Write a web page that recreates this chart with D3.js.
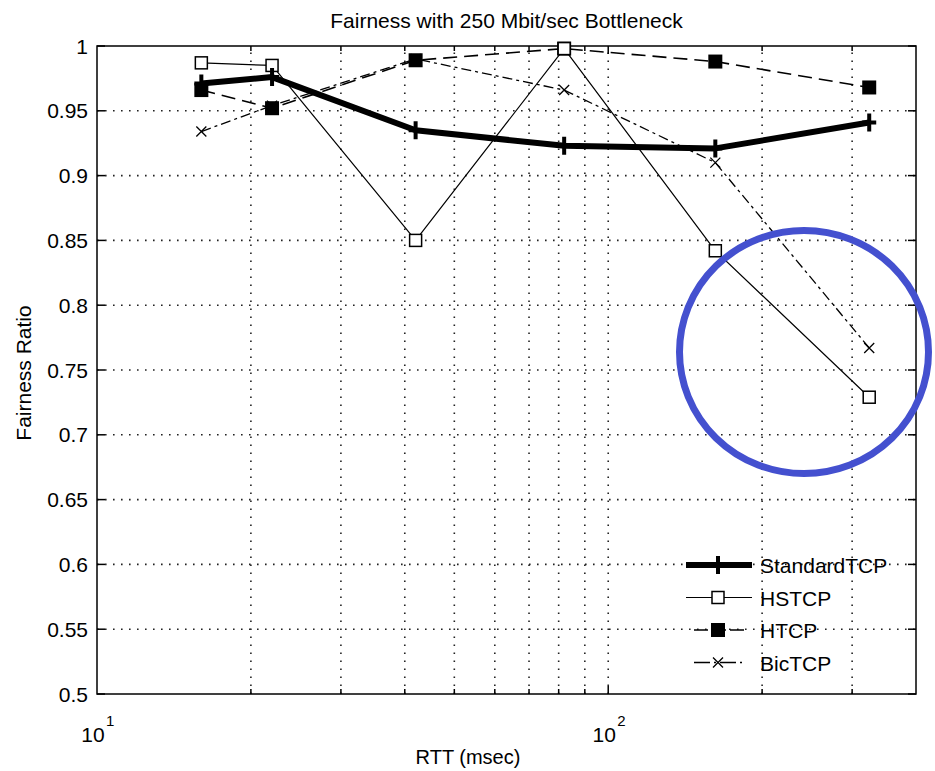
<!DOCTYPE html>
<html>
<head>
<meta charset="utf-8">
<script src="https://cdn.jsdelivr.net/npm/d3@7"></script>
<style>
  body { margin: 0; background: #fff; }
  svg { font-family: "Liberation Sans", Arial, sans-serif; }
</style>
</head>
<body>
<svg id="chart" width="935" height="771"></svg>
<script>
// RTT values (msec) and fairness ratios
const rtt = [16, 22, 42, 82, 162, 324];
const standardTCP = [0.971, 0.976, 0.935, 0.923, 0.921, 0.941];
const hsTCP = [0.987, 0.985, 0.850, 0.998, 0.842, 0.729];
const hTCP = [0.966, 0.952, 0.989, 0.998, 0.988, 0.968];
const bicTCP = [0.934, 0.954, 0.990, 0.966, 0.910, 0.767];
const seriesNames = ["StandardTCP", "HSTCP", "HTCP", "BicTCP"];
const yTicks = d3.range(0.5, 1.0001, 0.05);
const xMinor = [20, 30, 40, 50, 60, 70, 80, 90, 100, 200, 300];

const svg = d3.select("#chart");
const plotL = 97, plotR = 916, plotT = 46, plotB = 694;

const x = d3.scaleLog().domain([10, 400]).range([plotL, plotR]);
const y = d3.scaleLinear().domain([0.5, 1]).range([plotB, plotT]);

// grid
const grid = svg.append("g")
    .attr("stroke", "#222")
    .attr("stroke-width", 1.6)
    .attr("stroke-dasharray", "1.6,6.4");
grid.selectAll(".gy").data(yTicks.slice(1, -1)).enter().append("line")
    .attr("x1", plotL).attr("x2", plotR)
    .attr("y1", d => y(d)).attr("y2", d => y(d));
grid.selectAll(".gx").data(xMinor).enter().append("line")
    .attr("x1", d => x(d)).attr("x2", d => x(d))
    .attr("y1", plotB).attr("y2", plotT);

// frame
svg.append("rect")
    .attr("x", plotL).attr("y", plotT)
    .attr("width", plotR - plotL).attr("height", plotB - plotT)
    .attr("fill", "none").attr("stroke", "#000").attr("stroke-width", 1.5);

// inward ticks on all four sides
const ticks = svg.append("g").attr("stroke", "#000").attr("stroke-width", 1.5);
yTicks.forEach(v => {
    ticks.append("line").attr("x1", plotL).attr("x2", plotL + 8).attr("y1", y(v)).attr("y2", y(v));
    ticks.append("line").attr("x1", plotR).attr("x2", plotR - 8).attr("y1", y(v)).attr("y2", y(v));
});
xMinor.forEach(v => {
    const len = v === 100 ? 8 : 5;
    ticks.append("line").attr("x1", x(v)).attr("x2", x(v)).attr("y1", plotB).attr("y2", plotB - len);
    ticks.append("line").attr("x1", x(v)).attr("x2", x(v)).attr("y1", plotT).attr("y2", plotT + len);
});

// y tick labels
svg.append("g").selectAll("text").data(yTicks).enter().append("text")
    .attr("x", plotL - 9)
    .attr("y", d => y(d) + 7.5)
    .attr("text-anchor", "end")
    .attr("font-size", 21)
    .text(d => d3.format("~g")(+d.toFixed(2)));

// x tick labels (10^1, 10^2)
[10, 100].forEach(v => {
    svg.append("text")
        .attr("x", x(v) - 4).attr("y", 742)
        .attr("text-anchor", "middle")
        .attr("font-size", 21)
        .text("10");
    svg.append("text")
        .attr("x", x(v) + 9).attr("y", 726)
        .attr("font-size", 15)
        .text(Math.round(Math.log10(v)));
});

// title and axis labels
svg.append("text").attr("x", (plotL + plotR) / 2).attr("y", 28)
    .attr("text-anchor", "middle").attr("font-size", 21)
    .text("Fairness with 250 Mbit/sec Bottleneck");
svg.append("text").attr("x", 468).attr("y", 764)
    .attr("text-anchor", "middle").attr("font-size", 20)
    .text("RTT (msec)");
svg.append("text")
    .attr("transform", "translate(31,373) rotate(-90)")
    .attr("text-anchor", "middle").attr("font-size", 21)
    .text("Fairness Ratio");

const line = d3.line().x(d => x(d[0])).y(d => y(d[1]));
const zipped = vals => rtt.map((r, i) => [r, vals[i]]);

const styles = [
    { vals: standardTCP, width: 6, dash: null, marker: "plus" },
    { vals: hsTCP, width: 1.2, dash: null, marker: "square" },
    { vals: hTCP, width: 1.6, dash: "14,7", marker: "filled" },
    { vals: bicTCP, width: 1.3, dash: "10,4,3,4", marker: "x" }
];

function drawMarker(g, cx, cy, kind) {
    if (kind === "plus") {
        g.append("path").attr("d", `M${cx - 7},${cy}H${cx + 7}M${cx},${cy - 9}V${cy + 9}`)
            .attr("stroke", "#000").attr("stroke-width", 4).attr("fill", "none");
    } else if (kind === "square") {
        g.append("rect").attr("x", cx - 6).attr("y", cy - 6).attr("width", 12).attr("height", 12)
            .attr("fill", "#fff").attr("stroke", "#000").attr("stroke-width", 1.5);
    } else if (kind === "filled") {
        g.append("rect").attr("x", cx - 7).attr("y", cy - 7).attr("width", 14).attr("height", 14)
            .attr("fill", "#000");
    } else {
        g.append("path").attr("d", `M${cx - 5},${cy - 5}L${cx + 5},${cy + 5}M${cx - 5},${cy + 5}L${cx + 5},${cy - 5}`)
            .attr("stroke", "#000").attr("stroke-width", 1.3);
    }
}

// draw series so StandardTCP ends on top of thin lines
[2, 3, 1, 0].forEach(i => {
    const s = styles[i];
    const g = svg.append("g");
    g.append("path").datum(zipped(s.vals))
        .attr("d", line)
        .attr("fill", "none")
        .attr("stroke", "#000")
        .attr("stroke-width", s.width)
        .attr("stroke-linejoin", "round")
        .attr("stroke-dasharray", s.dash);
    zipped(s.vals).forEach(d => drawMarker(g, x(d[0]), y(d[1]), s.marker));
});

// legend
const leg = svg.append("g");
seriesNames.forEach((name, i) => {
    const s = styles[i];
    const ly = 565 + i * 32.5;
    const x1 = i < 2 ? 686 : 694, x2 = i < 2 ? 752 : 745;
    leg.append("line").attr("x1", x1).attr("x2", x2).attr("y1", ly).attr("y2", ly)
        .attr("stroke", "#000").attr("stroke-width", s.width)
        .attr("stroke-dasharray", s.dash ? (i === 2 ? "14,4" : "16,4,2,4") : null);
    drawMarker(leg, 718, ly, s.marker);
    leg.append("text").attr("x", 760).attr("y", ly + 8)
        .attr("font-size", 21).text(name);
});

// highlight circle drawn over the plot
svg.append("ellipse")
    .attr("cx", 804).attr("cy", 352)
    .attr("rx", 124.5).attr("ry", 121.5)
    .attr("fill", "none")
    .attr("stroke", "#4450cf")
    .attr("stroke-width", 7);
</script>
</body>
</html>
